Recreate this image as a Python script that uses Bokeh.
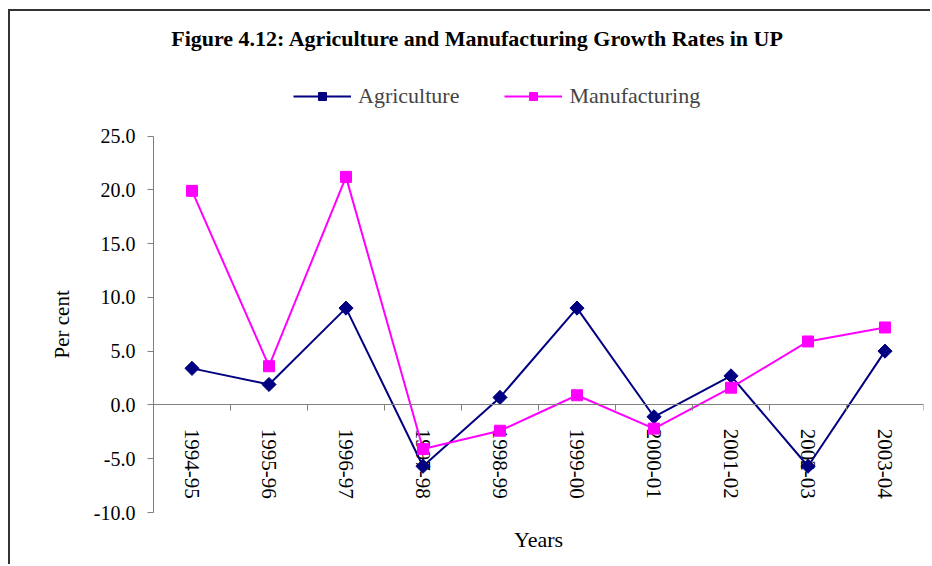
import math
from bokeh.plotting import figure
from bokeh.layouts import column
from bokeh.models import (ColumnDataSource, FixedTicker, NumeralTickFormatter, Legend,
                          LegendItem, Title, Label)
from bokeh.core.properties import value
from bokeh.embed import file_html
from bokeh.resources import INLINE

# ---- data ----
years = ["1994-95", "1995-96", "1996-97", "1997-98", "1998-99",
         "1999-00", "2000-01", "2001-02", "2002-03", "2003-04"]
agriculture = [3.4, 1.9, 9.0, -5.7, 0.7, 9.0, -1.1, 2.7, -5.7, 5.0]
manufacturing = [19.9, 3.6, 21.2, -4.1, -2.4, 0.9, -2.2, 1.6, 5.9, 7.2]
y_ticks = [-10, -5, 0, 5, 10, 15, 20, 25]

FONT = "Liberation Serif"
xpos = [i + 0.5 for i in range(len(years))]

src = ColumnDataSource(dict(x=xpos, year=years, agr=agriculture, man=manufacturing))

# layout (pixels): the frame runs from the canvas top to 503 px; the axis part
# (-10 .. 25) occupies its lower 378 px, the rest holds the title and the legend
FRAME_H = 503
AXIS_H = 378
y_lo, y_hi = min(y_ticks), max(y_ticks)
px_per_unit = AXIS_H / (y_hi - y_lo)
y_top = y_lo + FRAME_H / px_per_unit

p = figure(width=922, height=555, output_backend="svg", toolbar_location=None,
           x_range=(0, len(years)), y_range=(y_lo, y_top),
           min_border_left=143, min_border_right=7, min_border_top=0,
           min_border_bottom=555 - FRAME_H, title=None)
p.outline_line_color = None
p.xgrid.visible = False
p.ygrid.visible = False
p.background_fill_color = "white"
p.border_fill_color = "white"

AX = "#808080"
# x axis crossing at zero, ticks at category boundaries
bounds = list(range(len(years) + 1))
xa = p.xaxis[0]
xa.fixed_location = 0
xa.ticker = FixedTicker(ticks=bounds)
xa.major_label_overrides = {b: "" for b in bounds}
xa.major_tick_in = 0
xa.major_tick_out = 6
xa.minor_tick_line_color = None
xa.axis_line_color = AX
xa.major_tick_line_color = AX

ya = p.yaxis[0]
ya.bounds = (y_lo, y_hi)
ya.ticker = FixedTicker(ticks=y_ticks)
ya.formatter = NumeralTickFormatter(format="0.0")
ya.major_tick_in = 0
ya.major_tick_out = 6
ya.minor_tick_line_color = None
ya.axis_line_color = AX
ya.major_tick_line_color = AX
ya.major_label_text_font = FONT
ya.major_label_text_font_size = "20px"
ya.major_label_text_color = "black"
ya.major_label_standoff = 12

# y axis title, placed along the -10..25 part of the axis
p.add_layout(Title(text="Per cent", align="left", offset=154, text_font=FONT,
                   text_font_size="21px", text_font_style="normal",
                   text_color="black", standoff=34), "left")

# category labels, rotated, under the zero line
p.text(x="x", y=-24 / px_per_unit, text="year", source=src, angle=-math.pi / 2,
       text_align="left", text_baseline="middle", text_font=value(FONT),
       text_font_size="21px", text_color="black")

NAVY = "#000080"
MAG = "#FF00FF"
l1 = p.line("x", "agr", source=src, line_color=NAVY, line_width=2)
s1 = p.scatter("x", "agr", source=src, marker="square", angle=math.pi / 4,
               size=10, fill_color=NAVY, line_color=NAVY)
l2 = p.line("x", "man", source=src, line_color=MAG, line_width=2)
s2 = p.scatter("x", "man", source=src, marker="square", size=11,
               fill_color=MAG, line_color=MAG)

legend = Legend(items=[LegendItem(label="Agriculture", renderers=[l1, s1]),
                       LegendItem(label="Manufacturing", renderers=[l2, s2])],
                orientation="horizontal", location=(140, FRAME_H - 100),
                label_text_font=FONT, label_text_font_size="22px",
                glyph_width=58, glyph_height=20, label_standoff=7, spacing=45,
                padding=0, margin=0, border_line_color=None,
                background_fill_alpha=0)
p.add_layout(legend, "center")

frame_w = 922 - 143 - 7
px_per_cat = frame_w / len(years)
p.add_layout(Label(x=(478 - 153) / px_per_cat, y=y_top - 27 / px_per_unit,
                   text="Figure 4.12: Agriculture and Manufacturing Growth Rates in UP",
                   text_font=FONT, text_font_size="22px", text_font_style="bold",
                   text_align="center", text_baseline="middle", text_color="black"))

p.add_layout(Title(text="Years", align="center", offset=-52, text_font=FONT,
                   text_font_size="22px", text_font_style="normal",
                   text_color="black", standoff=24), "below")

page = column(p, width=922, height=555,
              styles={"border-left": "2px solid #333333",
                      "border-top": "2px solid #333333",
                      "margin-left": "8px", "margin-top": "9px"})

open("out.html", "w").write(file_html(page, INLINE))
